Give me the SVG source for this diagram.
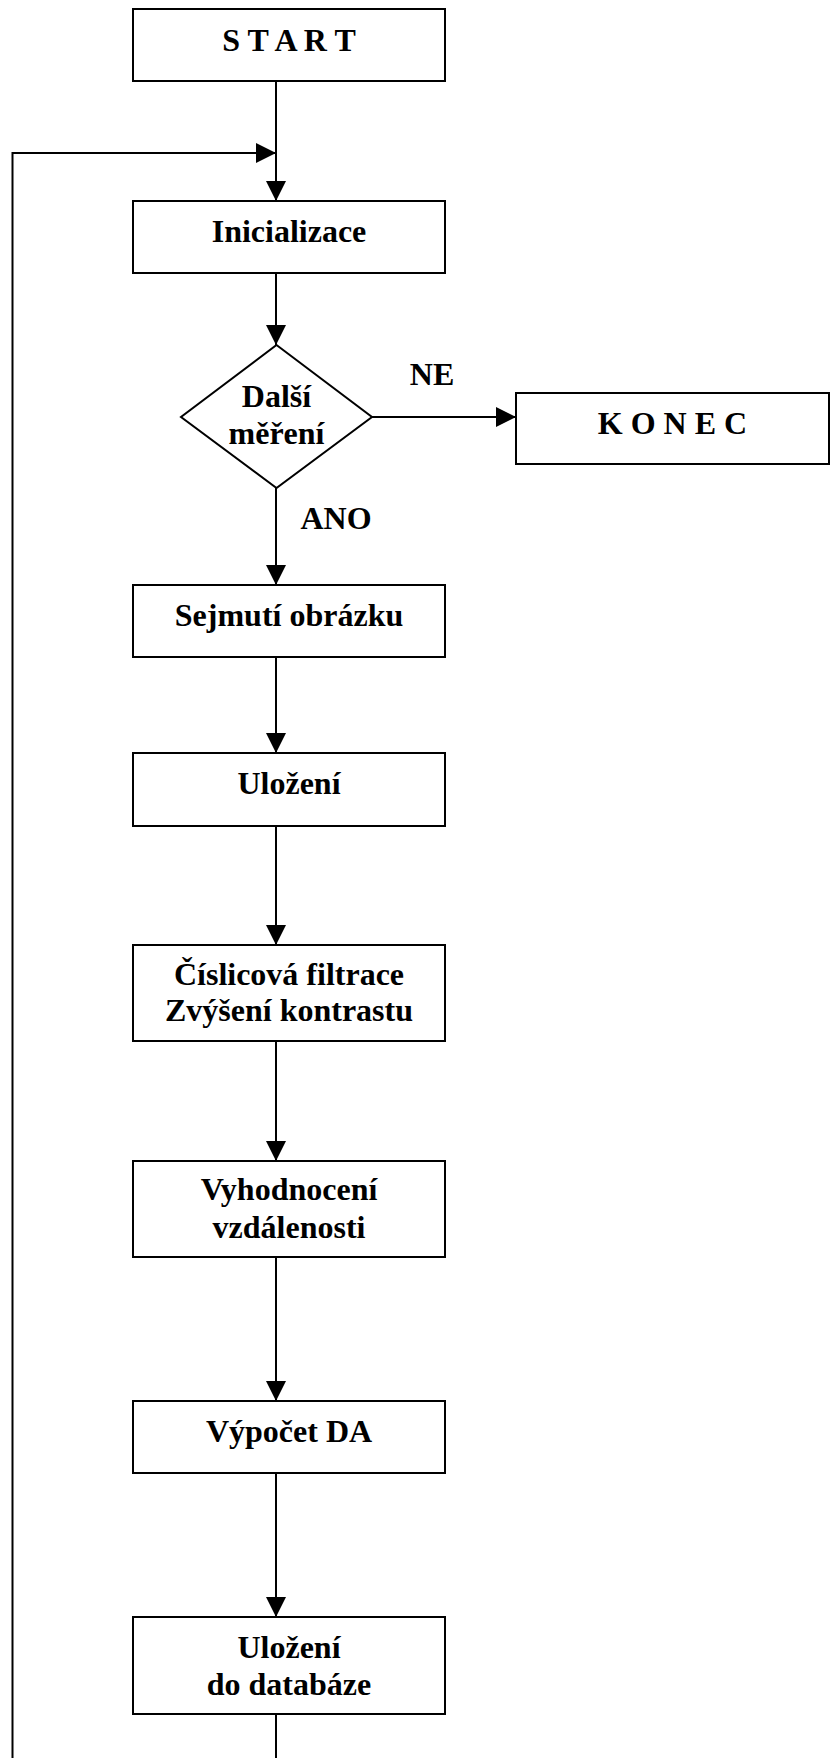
<svg xmlns="http://www.w3.org/2000/svg" width="830" height="1758" viewBox="0 0 830 1758">
<style>
.box{fill:#fff;stroke:#000;stroke-width:2}
.t{font-family:"Liberation Serif","Times New Roman",serif;font-weight:bold;font-size:32px;fill:#000;text-anchor:middle}
.c{fill:none;stroke:#000;stroke-width:2}
</style>
<defs>
<marker id="arr" markerUnits="userSpaceOnUse" markerWidth="20" markerHeight="20" refX="20" refY="10" orient="auto" viewBox="0 0 20 20">
<path d="M0,0 L20,10 L0,20 z" fill="#000"/>
</marker>
</defs>
<g id="connectors">
<line class="c" x1="276" y1="81" x2="276" y2="201" marker-end="url(#arr)"/>
<polyline class="c" points="12.5,1758 12.5,153 276,153" marker-end="url(#arr)"/>
<line class="c" x1="276" y1="273" x2="276" y2="345" marker-end="url(#arr)"/>
<line class="c" x1="372" y1="417" x2="516" y2="417" marker-end="url(#arr)"/>
<line class="c" x1="276" y1="488" x2="276" y2="585" marker-end="url(#arr)"/>
<line class="c" x1="276" y1="657" x2="276" y2="753" marker-end="url(#arr)"/>
<line class="c" x1="276" y1="826" x2="276" y2="945" marker-end="url(#arr)"/>
<line class="c" x1="276" y1="1041" x2="276" y2="1161" marker-end="url(#arr)"/>
<line class="c" x1="276" y1="1257" x2="276" y2="1401" marker-end="url(#arr)"/>
<line class="c" x1="276" y1="1473" x2="276" y2="1617" marker-end="url(#arr)"/>
<line class="c" x1="276" y1="1714" x2="276" y2="1758"/>
<text class="t" x="432" y="385">NE</text>
<text class="t" x="336" y="529">ANO</text>
</g>
<g id="start">
<rect class="box" x="133" y="9" width="312" height="72"/>
<text class="t" x="289" y="51">S T A R T</text>
</g>
<g id="inicializace">
<rect class="box" x="133" y="201" width="312" height="72"/>
<text class="t" x="289" y="242">Inicializace</text>
</g>
<g id="dalsi-mereni">
<polygon class="box" points="276.5,345 372,417 276.5,488 181,417"/>
<text class="t" x="276.5" y="407">Další</text>
<text class="t" x="276.5" y="444">měření</text>
</g>
<g id="konec">
<rect class="box" x="516" y="393" width="313" height="71"/>
<text class="t" x="672.5" y="434">K O N E C</text>
</g>
<g id="sejmuti">
<rect class="box" x="133" y="585" width="312" height="72"/>
<text class="t" x="289" y="626">Sejmutí obrázku</text>
</g>
<g id="ulozeni">
<rect class="box" x="133" y="753" width="312" height="73"/>
<text class="t" x="289" y="794">Uložení</text>
</g>
<g id="filtrace">
<rect class="box" x="133" y="945" width="312" height="96"/>
<text class="t" x="289" y="985">Číslicová filtrace</text>
<text class="t" x="289" y="1021">Zvýšení kontrastu</text>
</g>
<g id="vyhodnoceni">
<rect class="box" x="133" y="1161" width="312" height="96"/>
<text class="t" x="289" y="1200">Vyhodnocení</text>
<text class="t" x="289" y="1238">vzdálenosti</text>
</g>
<g id="vypocet">
<rect class="box" x="133" y="1401" width="312" height="72"/>
<text class="t" x="289" y="1442">Výpočet DA</text>
</g>
<g id="ulozeni-db">
<rect class="box" x="133" y="1617" width="312" height="97"/>
<text class="t" x="289" y="1658">Uložení</text>
<text class="t" x="289" y="1695">do databáze</text>
</g>
</svg>
